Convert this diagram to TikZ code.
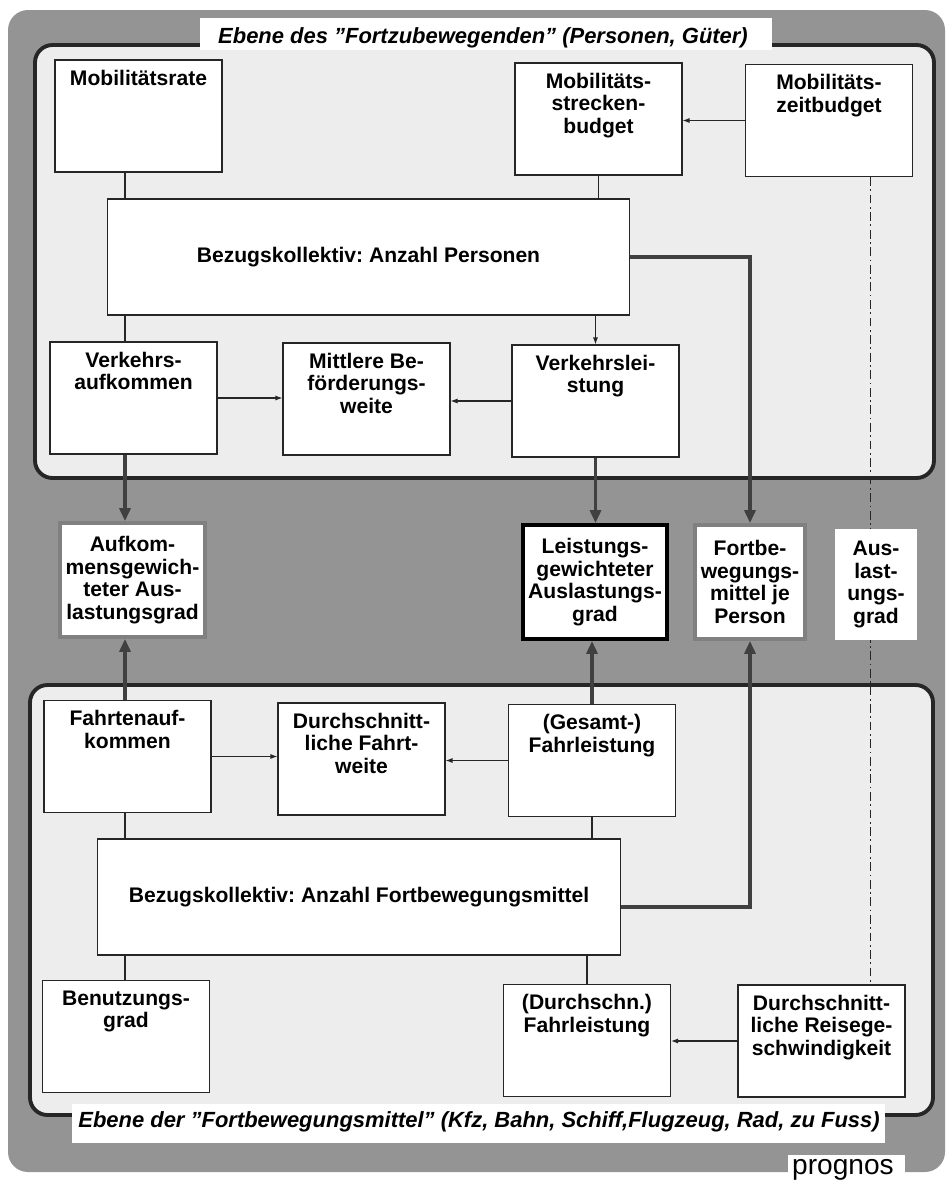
\documentclass[tikz,border=0pt]{standalone}
\usepackage{fontspec}
\setmainfont{Liberation Sans}
\usepackage{tikz}
\usetikzlibrary{arrows.meta, positioning}
\frenchspacing

% box text that starts at the top of the box
\newcommand{\oben}[1]{\parbox[t][1.84cm][t]{3.2cm}{\centering #1}}

\begin{document}
\begin{tikzpicture}[x=0.02cm, y=-0.02cm,
    kasten/.style={draw=black!85, fill=white, line width=0.6pt, inner xsep=0.07cm, inner ysep=0.2cm,
        font=\fontsize{12}{12.8}\selectfont\bfseries},
    bezug/.style={draw=black!85, fill=white, line width=0.6pt, minimum width=10.46cm, minimum height=2.32cm,
        font=\fontsize{12}{12.8}\selectfont\bfseries},
    ergebnis/.style={fill=white, line width=2.2pt, align=center, inner sep=0pt, minimum height=2.28cm,
        font=\fontsize{12}{12.8}\selectfont\bfseries},
    titel/.style={inner sep=0pt, font=\fontsize{12.5}{14}\selectfont\bfseries\itshape},
    ebene/.style={fill=black!7, draw=black!85, line width=2.2pt, rounded corners=0.35cm},
    duenn/.style={draw=black!85, line width=0.6pt},
    duennpfeil/.style={duenn, -{Latex[length=0.14cm, width=0.1cm]}},
    dickpfeil/.style={draw=black!75, line width=2.2pt, -{Triangle[length=0.26cm, width=0.22cm]}},
    strichpunkt/.style={draw=black!85, line width=0.5pt, dash pattern=on 5pt off 2pt on 1pt off 2pt}]
    \useasboundingbox (0,0) rectangle (948,1184);

    % Background and the two levels
    \fill[black!42, rounded corners=0.4cm] (8,10) rectangle (945,1172);
    \draw[ebene] (35,45) rectangle (934,478);
    \draw[ebene] (30,685) rectangle (933,1115);

    % Titles
    \fill[white] (200,18) rectangle (772,50);
    \node[titel] (ebeneP) at (483,38) {Ebene des "Fortzubewegenden" (Personen, Güter)};
    \fill[white] (72,1104) rectangle (885,1143);
    \node[titel] (ebeneF) at (479,1122) {Ebene der "Fortbewegungsmittel" (Kfz, Bahn, Schiff,Flugzeug, Rad, zu Fuss)};
    \fill[white] (788,1155) rectangle (905,1184);
    \node[inner sep=0pt, font=\fontsize{16}{17}\selectfont] (prognos) at (843,1170) {prognos};

    % Columns of the connectors
    \coordinate (links) at (125,0);
    \coordinate (strich) at (870,0);

    % Upper level
    \node[kasten] (rate) at (138.5,116) {\oben{Mobilitätsrate}};
    \node[kasten] (strecken) at (598.5,119) {\oben{Mobilitäts-\\strecken-\\budget}};
    \node[kasten] (zeit) at (829,120.5) {\oben{Mobilitäts-\\zeitbudget}};
    \node[bezug] (bezP) at (368.5,257) {Bezugskollektiv: Anzahl Personen};
    \node[kasten] (verkA) at (133.5,398) {\oben{Verkehrs-\\aufkommen}};
    \node[kasten] (mbw) at (366.5,399) {\oben{Mittlere Be-\\förderungs-\\weite}};
    \node[kasten] (verkL) at (595.5,401) {\oben{Verkehrslei-\\stung}};

    % Middle row
    \node[ergebnis, draw=black!50, minimum width=2.9cm] (aufG) at (132.5,580) {Aufkom-\\mensgewich-\\teter Aus-\\lastungsgrad};
    \node[ergebnis, draw=black, minimum width=2.88cm] (leistG) at (595,582) {Leistungs-\\gewichteter\\Auslastungs-\\grad};
    \node[ergebnis, draw=black!50, minimum width=2.2cm] (fjp) at (750,582) {Fortbe-\\wegungs-\\mittel je\\Person};

    % Lower level
    \node[kasten] (fahrten) at (127.5,756.5) {\oben{Fahrtenauf-\\kommen}};
    \node[kasten] (dfw) at (361.5,759) {\oben{Durchschnitt-\\liche Fahrt-\\weite}};
    \node[kasten] (gesF) at (592,760.5) {\oben{(Gesamt-)\\Fahrleistung}};
    \node[bezug] (bezF) at (359,897) {Bezugskollektiv: Anzahl Fortbewegungsmittel};
    \node[kasten] (benutz) at (126,1036.5) {\oben{Benutzungs-\\grad}};
    \node[kasten] (dfl) at (587,1040.5) {\oben{(Durchschn.)\\Fahrleistung}};
    \node[kasten] (reise) at (821.5,1041) {\oben{Durchschnitt-\\liche Reisege-\\schwindigkeit}};

    % Dash-dot line, hidden by the box in the middle
    \draw[strichpunkt] (zeit.south -| strich) -- (reise.north -| strich);
    \node[ergebnis, minimum width=1.64cm, minimum height=2.22cm] (ausl) at (876,584.5) {Aus-\\last-\\ungs-\\grad};

    % Thin connectors, upper level
    \draw[duenn] (rate.south -| links) -- (bezP.north -| links);
    \draw[duenn] (strecken.south) -- (strecken.south |- bezP.north);
    \draw[duennpfeil] (zeit.west) -- (zeit.west -| strecken.east);
    \draw[duenn] (bezP.south -| links) -- (verkA.north -| links);
    \draw[duennpfeil] (bezP.south -| verkL.north) -- (verkL.north);
    \draw[duennpfeil] (verkA.east) -- (verkA.east -| mbw.west);
    \draw[duennpfeil] (verkL.west) -- (verkL.west -| mbw.east);

    % Thick connectors
    \draw[dickpfeil] (verkA.south -| links) -- (aufG.north -| links);
    \draw[dickpfeil] (verkL.south) -- (verkL.south |- leistG.north);
    \draw[dickpfeil] (bezP.east) -| (fjp.north);
    \draw[dickpfeil] (fahrten.north -| links) -- (aufG.south -| links);
    \draw[dickpfeil] (gesF.north) -- (gesF.north |- leistG.south);
    \draw[dickpfeil] ([yshift=-0.2cm]bezF.east) -| (fjp.south);

    % Thin connectors, lower level
    \draw[duennpfeil] (fahrten.east) -- (fahrten.east -| dfw.west);
    \draw[duennpfeil] (gesF.west) -- (gesF.west -| dfw.east);
    \draw[duenn] (fahrten.south -| links) -- (bezF.north -| links);
    \draw[duenn] (gesF.south) -- (gesF.south |- bezF.north);
    \draw[duenn] (bezF.south -| links) -- (benutz.north -| links);
    \draw[duenn] (bezF.south -| dfl.north) -- (dfl.north);
    \draw[duennpfeil] (reise.west) -- (reise.west -| dfl.east);
\end{tikzpicture}
\end{document}
